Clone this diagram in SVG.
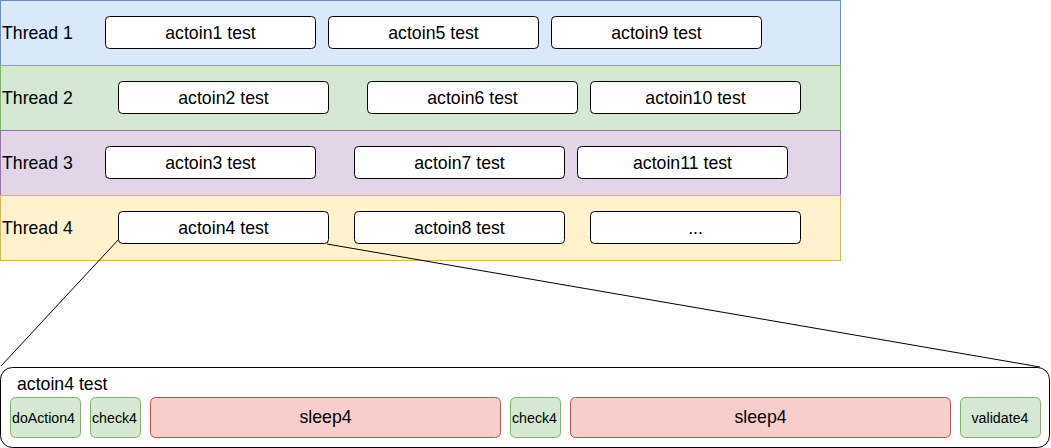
<svg xmlns="http://www.w3.org/2000/svg" width="1051" height="448" viewBox="0 0 1051 448">
<style>
text{font-family:"Liberation Sans",Arial,sans-serif;fill:#000}
.lbl{font-size:17.7px}
.ctr{text-anchor:middle}
.box{fill:#fff;stroke:#000;stroke-width:1}
.sm{font-size:15.5px}
.g{fill:#d5e8d4;stroke:#82b366}
.r{fill:#f8cecc;stroke:#b85450}
.ln{stroke:#000;stroke-width:1;fill:none}
</style>
<g id="lane1"><rect x="0.5" y="0.5" width="840" height="65" fill="#dae8fc" stroke="#6c8ebf"/><text class="lbl" x="2" y="39">Thread 1</text></g>
<g id="lane2"><rect x="0.5" y="65.5" width="840" height="65" fill="#d5e8d4" stroke="#82b366"/><text class="lbl" x="2" y="104">Thread 2</text></g>
<g id="lane3"><rect x="0.5" y="130.5" width="840" height="65" fill="#e1d5e7" stroke="#9673a6"/><text class="lbl" x="2" y="169">Thread 3</text></g>
<g id="lane4"><rect x="0.5" y="195.5" width="840" height="65" fill="#fff2cc" stroke="#d6b656"/><text class="lbl" x="2" y="234">Thread 4</text></g>

<g id="a1"><rect class="box" x="105.5" y="16.5" width="210" height="32" rx="4"/><text class="lbl ctr" x="210.5" y="39">actoin1 test</text></g>
<g id="a5"><rect class="box" x="328.5" y="16.5" width="210" height="32" rx="4"/><text class="lbl ctr" x="433.5" y="39">actoin5 test</text></g>
<g id="a9"><rect class="box" x="551.5" y="16.5" width="210" height="32" rx="4"/><text class="lbl ctr" x="656.5" y="39">actoin9 test</text></g>

<g id="a2"><rect class="box" x="118.5" y="81.5" width="210" height="32" rx="4"/><text class="lbl ctr" x="223.5" y="104">actoin2 test</text></g>
<g id="a6"><rect class="box" x="367.5" y="81.5" width="210" height="32" rx="4"/><text class="lbl ctr" x="472.5" y="104">actoin6 test</text></g>
<g id="a10"><rect class="box" x="590.5" y="81.5" width="210" height="32" rx="4"/><text class="lbl ctr" x="695.5" y="104">actoin10 test</text></g>

<g id="a3"><rect class="box" x="105.5" y="146.5" width="210" height="32" rx="4"/><text class="lbl ctr" x="210.5" y="169">actoin3 test</text></g>
<g id="a7"><rect class="box" x="354.5" y="146.5" width="210" height="32" rx="4"/><text class="lbl ctr" x="459.5" y="169">actoin7 test</text></g>
<g id="a11"><rect class="box" x="577.5" y="146.5" width="210" height="32" rx="4"/><text class="lbl ctr" x="682.5" y="169">actoin11 test</text></g>

<g id="a4"><rect class="box" x="118.5" y="211.5" width="210" height="32" rx="4"/><text class="lbl ctr" x="223.5" y="234">actoin4 test</text></g>
<g id="a8"><rect class="box" x="354.5" y="211.5" width="210" height="32" rx="4"/><text class="lbl ctr" x="459.5" y="234">actoin8 test</text></g>
<g id="a12"><rect class="box" x="590.5" y="211.5" width="210" height="32" rx="4"/><text class="lbl ctr" x="695.5" y="234">...</text></g>

<g id="connectors">
<line class="ln" x1="119" y1="239" x2="1" y2="366"/>
<line class="ln" x1="327" y1="244" x2="1040" y2="367"/>
</g>

<g id="detail">
<rect class="box" x="0.5" y="367.5" width="1049" height="80" rx="12"/>
<text class="lbl" x="17" y="389.5">actoin4 test</text>
</g>
<g id="doAction4"><rect class="g" x="10.5" y="397.5" width="70" height="40" rx="5"/><text class="sm ctr" x="43.5" y="423" textLength="63" lengthAdjust="spacingAndGlyphs">doAction4</text></g>
<g id="check4a"><rect class="g" x="90.5" y="397.5" width="50" height="40" rx="5"/><text class="sm ctr" x="114.5" y="423" textLength="45" lengthAdjust="spacingAndGlyphs">check4</text></g>
<g id="sleep4a"><rect class="r" x="150.5" y="397.5" width="350" height="40" rx="5"/><text class="lbl ctr" x="325.5" y="423">sleep4</text></g>
<g id="check4b"><rect class="g" x="510.5" y="397.5" width="50" height="40" rx="5"/><text class="sm ctr" x="534.5" y="423" textLength="45" lengthAdjust="spacingAndGlyphs">check4</text></g>
<g id="sleep4b"><rect class="r" x="570.5" y="397.5" width="380" height="40" rx="5"/><text class="lbl ctr" x="760.5" y="423">sleep4</text></g>
<g id="validate4"><rect class="g" x="960.5" y="397.5" width="80" height="40" rx="5"/><text class="sm ctr" x="1000" y="423" textLength="57" lengthAdjust="spacingAndGlyphs">validate4</text></g>
</svg>
